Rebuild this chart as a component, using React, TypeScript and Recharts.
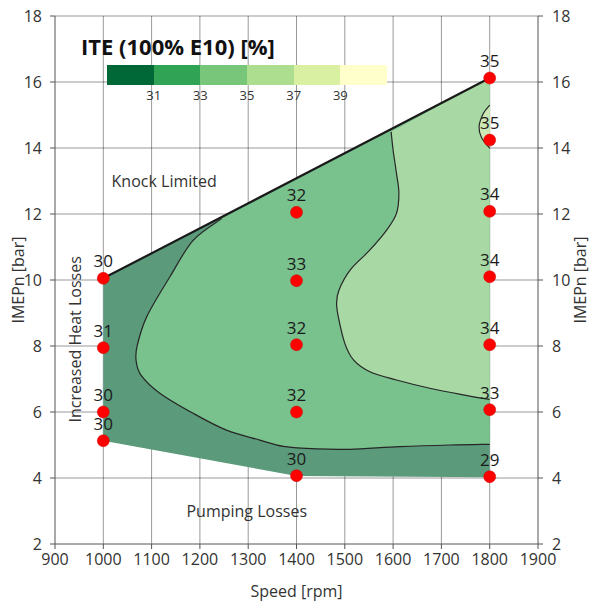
import React from "react";
import { ScatterChart, Scatter, XAxis, YAxis, ReferenceLine, ReferenceDot } from "recharts";

// measured operating points
const speeds = [1000, 1000, 1000, 1000, 1400, 1400, 1400, 1400, 1400, 1800, 1800, 1800, 1800, 1800, 1800, 1800];
const imep = [10.05, 7.95, 6.0, 5.13, 12.05, 9.98, 8.04, 6.0, 4.07, 16.12, 14.24, 12.08, 10.1, 8.04, 6.07, 4.04];
const ite = [30, 31, 30, 30, 32, 33, 32, 32, 30, 35, 35, 34, 34, 34, 33, 29];

// axes
const xTicks = [900, 1000, 1100, 1200, 1300, 1400, 1500, 1600, 1700, 1800, 1900];
const xMinorTicks = [950, 1050, 1150, 1250, 1350, 1450, 1550, 1650, 1750, 1850];
const yTicks = [2, 4, 6, 8, 10, 12, 14, 16, 18];
const yMinorTicks = [3, 5, 7, 9, 11, 13, 15, 17];

// colour scale
const legendColors = ["#006837", "#31a354", "#78c679", "#addd8e", "#d9f0a3", "#ffffcc"];
const legendTicks = [31, 33, 35, 37, 39];

// map outline and contour lines, [rpm, bar]
const knockLimit = [[1000, 10.05], [1800, 16.12]];
const mapOutline = [[1000, 10.05], [1800, 16.12], [1800, 4.02], [1400, 4.06], [1000, 5.13]];
const contourA = [
  [1245, 11.86], [1186, 11.2], [1138, 10.1], [1090, 8.89], [1070, 8.0], [1068, 7.55], [1078, 7.12],
  [1117, 6.57], [1186, 5.96], [1255, 5.45], [1324, 5.15], [1373, 4.96], [1442, 4.88], [1511, 4.87],
  [1614, 4.95], [1718, 5.0], [1800, 5.02],
];
const contourB = [
  [1596, 14.49], [1600, 13.94], [1607, 13.23], [1612, 12.63], [1607, 12.02], [1587, 11.52],
  [1552, 10.91], [1511, 10.3], [1488, 9.7], [1483, 9.3], [1487, 8.85], [1500, 8.08], [1518, 7.58],
  [1552, 7.22], [1607, 6.97], [1676, 6.72], [1745, 6.52], [1800, 6.38],
];
const contourC = [[1800, 15.3], [1787, 15.05], [1778, 14.65], [1783, 14.32], [1800, 13.99]];

const toXY = (pairs: number[][]) => pairs.map(([x, y]) => ({ x, y }));
const points = speeds.map((x, i) => ({ x, y: imep[i], v: ite[i] }));

const smoothPath = (p: { x: number; y: number }[]) => {
  if (p.length < 2) return "";
  let d = `M${p[0].x},${p[0].y}`;
  for (let i = 0; i < p.length - 1; i++) {
    const p0 = p[i - 1] || p[i];
    const p1 = p[i];
    const p2 = p[i + 1];
    const p3 = p[i + 2] || p2;
    d += `C${p1.x + (p2.x - p0.x) / 6},${p1.y + (p2.y - p0.y) / 6} ${p2.x - (p3.x - p1.x) / 6},${p2.y - (p3.y - p1.y) / 6} ${p2.x},${p2.y}`;
  }
  return d;
};

// draws a filled region: first `smooth` points as a curve, the rest straight edges
const region = (fill: string, smooth: number) => (props: any) => {
  const pts = props.points || [];
  const curve = pts.slice(0, smooth);
  let d = smooth > 1 ? smoothPath(curve) : "";
  pts.slice(smooth).forEach((p: any) => {
    d += `${d === "" ? "M" : "L"}${p.x},${p.y}`;
  });
  d += "Z";
  return (
    <g>
      <path d={d} fill={fill} stroke="none" />
      {smooth > 1 && <path d={smoothPath(curve)} fill="none" stroke="#262626" strokeWidth={1.2} />}
    </g>
  );
};

const noShape = () => <g />;

const PointShape = (props: any) => {
  const { cx, cy, payload } = props;
  return (
    <g>
      <circle cx={cx} cy={cy} r={6} fill="#ff0000" stroke="#cc0000" strokeWidth={0.5} />
      <text x={cx} y={cy - 11} textAnchor="middle" fontSize={17} fill="#1a1a1a">
        {payload.v}
      </text>
    </g>
  );
};

const yLabel = (side: "left" | "right") => (props: any) => {
  const vb = props.viewBox;
  const cx = side === "left" ? vb.x + vb.width - 37 : vb.x + 42;
  const cy = vb.y + vb.height / 2;
  return (
    <text x={cx} y={cy} transform={`rotate(-90 ${cx} ${cy})`} textAnchor="middle" dominantBaseline="central" fontSize={16} fill="#333">
      IMEPn [bar]
    </text>
  );
};

const xLabel = (props: any) => {
  const vb = props.viewBox;
  return (
    <text x={vb.x + vb.width / 2} y={vb.y + 53} textAnchor="middle" fontSize={16} fill="#333">
      Speed [rpm]
    </text>
  );
};

const grid = { stroke: "#000", strokeOpacity: 0.4, strokeWidth: 1 };
const note = { fontSize: 16, fill: "#333", position: "center" as const };

export default function App() {
  return (
    <div style={{ position: "absolute", left: 0, top: 0, width: 590, height: 605, fontFamily: "'Open Sans', sans-serif", background: "#fff" }}>
      <ScatterChart width={590} height={605} margin={{ top: 16, right: 17, bottom: 31, left: 20 }}>
        <XAxis xAxisId="minor" type="number" dataKey="x" domain={[900, 1900]} allowDataOverflow ticks={xMinorTicks} interval={0} height={0} mirror axisLine={false} tick={false} tickSize={4} stroke="#555" />
        <XAxis type="number" dataKey="x" domain={[900, 1900]} allowDataOverflow ticks={xTicks} interval={0} height={30} tickSize={5} tickMargin={5} stroke="#555" tick={{ fill: "#333", fontSize: 16 }} label={{ content: xLabel }} />
        <YAxis yAxisId="minorL" type="number" dataKey="y" domain={[2, 18]} allowDataOverflow ticks={yMinorTicks} interval={0} width={0} axisLine={false} tick={false} tickSize={3} stroke="#555" />
        <YAxis type="number" dataKey="y" domain={[2, 18]} allowDataOverflow ticks={yTicks} interval={0} width={35} tickSize={5} tickMargin={8} stroke="#555" tick={{ fill: "#333", fontSize: 16 }} label={{ content: yLabel("left") }} />
        <YAxis yAxisId="minorR" orientation="right" type="number" dataKey="y" domain={[2, 18]} allowDataOverflow ticks={yMinorTicks} interval={0} width={0} axisLine={false} tick={false} tickSize={3} stroke="#555" />
        <YAxis yAxisId="right" orientation="right" type="number" dataKey="y" domain={[2, 18]} allowDataOverflow ticks={yTicks} interval={0} width={35} tickSize={5} tickMargin={9} stroke="#555" tick={{ fill: "#333", fontSize: 16 }} label={{ content: yLabel("right") }} />

        <Scatter data={toXY(mapOutline)} shape={noShape} line={region("#5b9b7b", 0)} isAnimationActive={false} />
        <Scatter data={toXY([...contourA, knockLimit[1]])} shape={noShape} line={region("#79c18d", contourA.length)} isAnimationActive={false} />
        <Scatter data={toXY([...contourB, knockLimit[1]])} shape={noShape} line={region("#a8d9a4", contourB.length)} isAnimationActive={false} />
        <Scatter data={toXY(contourC)} shape={noShape} line={region("#cde8b5", contourC.length)} isAnimationActive={false} />

        {xTicks.slice(1, -1).map((t) => (
          <ReferenceLine key={"x" + t} x={t} {...grid} />
        ))}
        {yTicks.slice(1).map((t) => (
          <ReferenceLine key={"y" + t} y={t} {...grid} />
        ))}

        <Scatter data={toXY(knockLimit)} shape={noShape} line={{ stroke: "#1a1a1a", strokeWidth: 2.2 }} isAnimationActive={false} />

        <ReferenceDot x={1126} y={13.0} r={0} fill="none" stroke="none" label={{ value: "Knock Limited", ...note }} />
        <ReferenceDot x={1297} y={3.0} r={0} fill="none" stroke="none" label={{ value: "Pumping Losses", ...note }} />
        <ReferenceDot x={943} y={8.2} r={0} fill="none" stroke="none" label={{ value: "Increased Heat Losses", angle: -90, ...note }} />

        <Scatter data={points} shape={PointShape} isAnimationActive={false} />
      </ScatterChart>

      <div style={{ position: "absolute", left: 81, top: 32, fontSize: 22, fontWeight: 700, color: "#111", lineHeight: "29px", whiteSpace: "nowrap" }}>
        ITE (100% E10) [%]
      </div>
      <div style={{ position: "absolute", left: 107, top: 65, display: "flex" }}>
        {legendColors.map((c) => (
          <div key={c} style={{ width: 46.67, height: 20, background: c }} />
        ))}
      </div>
      {legendTicks.map((t, i) => (
        <div key={t} style={{ position: "absolute", left: 107 + 46.67 * (i + 1) - 15, width: 30, top: 87, textAlign: "center", fontSize: 13, color: "#333", lineHeight: "16px" }}>
          {t}
        </div>
      ))}
    </div>
  );
}
